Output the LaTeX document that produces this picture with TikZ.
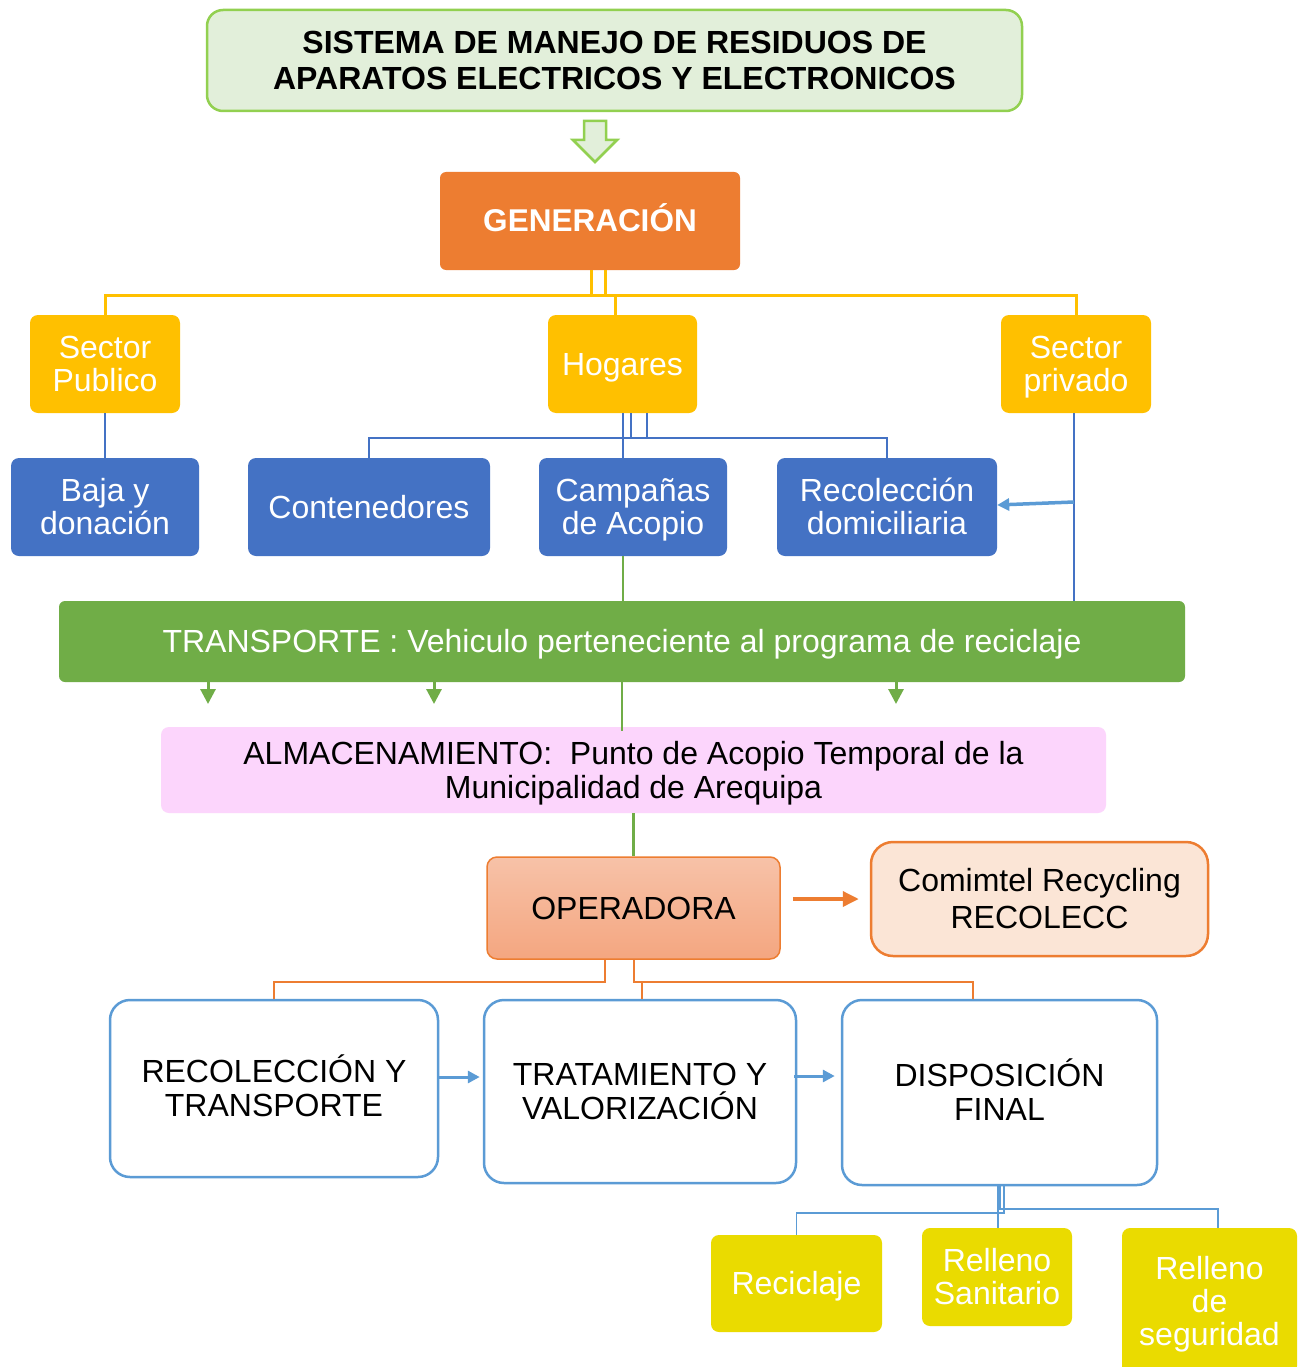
\documentclass[tikz,border=0pt]{standalone}
\usepackage{fontspec}
\setmainfont{Liberation Sans}
\usetikzlibrary{arrows.meta}

\definecolor{titlefill}{HTML}{E2EFDA}
\definecolor{titleline}{HTML}{92D050}
\definecolor{genorange}{HTML}{ED7D31}
\definecolor{gold}{HTML}{FFC000}
\definecolor{darkblue}{HTML}{4472C4}
\definecolor{lightblue}{HTML}{5B9BD5}
\definecolor{leafgreen}{HTML}{70AD47}
\definecolor{pinkfill}{HTML}{FCD5FC}
\definecolor{peachfill}{HTML}{FBE5D6}
\definecolor{opertop}{HTML}{F7C2A8}
\definecolor{operbottom}{HTML}{F4A680}
\definecolor{lemon}{HTML}{EADB00}

% invisible struts for the font's ascent and descent
\newcommand\linestrut{\rule[-0.212em]{0pt}{1.117em}}
\newcommand\ascstrut{\rule{0pt}{0.905em}}
\newcommand\descstrut{\rule[-0.212em]{0pt}{0.212em}}
% two- and three-line labels with struts on the outer lines
\newcommand\twolines[2]{\ascstrut#1\\#2\descstrut}
\newcommand\threelines[3]{\ascstrut#1\\#2\\#3\descstrut}

% place a node from its corner coordinates (x1,y1)-(x2,y2), in pixels
\newcommand\boxnode[7]{%
  \node[#6, minimum width={#4-#2}, minimum height={#5-#3}]
    (#1) at ({(#2+#4)/2},{(#3+#5)/2}) {#7};}

\begin{document}
\begin{tikzpicture}[x=1pt,y=-1pt,
  base/.style={rectangle, inner sep=0pt, align=center,
    font=\fontsize{32}{33}\selectfont},
  single/.style={execute at begin node=\linestrut, execute at end node=\linestrut},
  smallbox/.style={base, rounded corners=8pt, text=white},
  goldbox/.style={smallbox, fill=gold},
  bluebox/.style={smallbox, fill=darkblue},
  lemonbox/.style={smallbox, fill=lemon},
  stagebox/.style={base, rounded corners=20pt, fill=white, draw=lightblue,
    line width=2.5pt, font=\fontsize{32}{34}\selectfont},
  goldline/.style={draw=gold, line width=3pt},
  blueline/.style={draw=darkblue, line width=2.5pt},
  greenline/.style={draw=leafgreen, line width=2.5pt},
  orangeline/.style={draw=genorange, line width=1.5pt},
  thinblue/.style={draw=lightblue, line width=1.3pt},
  greenarrow/.style={draw=leafgreen, line width=3pt,
    -{Triangle[length=15pt,width=15pt]}},
  bluearrow/.style={draw=lightblue, line width=3pt,
    -{Triangle[length=12pt,width=12pt]}},
]
\clip (0,0) rectangle (1305,1367);
\fill[white] (0,0) rectangle (1305,1367);

% title
\boxnode{title}{207}{10}{1022}{111}{base, rounded corners=16pt, fill=titlefill,
  draw=titleline, line width=2.5pt, font=\fontsize{32}{36}\selectfont\bfseries}
  {\twolines{SISTEMA DE MANEJO DE RESIDUOS DE}{APARATOS ELECTRICOS Y ELECTRONICOS}}

% hollow block arrow below the title
\filldraw[fill=titlefill, draw=titleline, line width=2.5pt, line join=miter]
  (584,121) -- (606,121) -- (606,140) -- (617,140) -- (595,162)
  -- (573,140) -- (584,140) -- cycle;

% generation
\boxnode{gen}{440}{172}{740}{270}{base, single, rounded corners=6pt, fill=genorange,
  text=white, font=\fontsize{31.5}{36}\selectfont\bfseries}{GENERACIÓN}

% sources
\boxnode{pub}{30}{315}{180}{413}{goldbox}{\twolines{Sector}{Publico}}
\boxnode{hog}{548}{315}{697}{413}{goldbox, single}{Hogares}
\boxnode{priv}{1001}{315}{1151}{413}{goldbox}{\twolines{Sector}{privado}}

% collection modes
\boxnode{baja}{11}{458}{199}{556}{bluebox}{\twolines{Baja y}{donación}}
\boxnode{cont}{248}{458}{490}{556}{bluebox, single}{Contenedores}
\boxnode{camp}{539}{458}{727}{556}{bluebox}{\twolines{Campañas}{de Acopio}}
\boxnode{rec}{777}{458}{997}{556}{bluebox}{\twolines{Recolección}{domiciliaria}}

% transport and storage
\boxnode{trans}{59}{601}{1185}{682}{base, single, rounded corners=6pt, fill=leafgreen,
  text=white, font=\fontsize{32}{34}\selectfont}
  {TRANSPORTE : Vehiculo perteneciente al programa de reciclaje}
\boxnode{almac}{161}{727}{1106}{813}{base, rounded corners=8pt, fill=pinkfill,
  font=\fontsize{32}{34}\selectfont}
  {\twolines{ALMACENAMIENTO:\ \ Punto de Acopio Temporal de la}{Municipalidad de Arequipa}}

% operator
\boxnode{oper}{487}{857}{780}{959}{base, single, rounded corners=10pt,
  top color=opertop, bottom color=operbottom, draw=genorange, line width=1.5pt,
  font=\fontsize{32}{34}\selectfont}{OPERADORA}
\boxnode{comim}{871}{842}{1208}{956}{base, rounded corners=22pt, fill=peachfill,
  draw=genorange, line width=2.5pt, font=\fontsize{32}{37}\selectfont}
  {\twolines{Comimtel Recycling}{RECOLECC}}

% stages
\boxnode{rt}{110}{1000}{438}{1177}{stagebox}{\twolines{RECOLECCIÓN Y}{TRANSPORTE}}
\boxnode{tv}{484}{1000}{796}{1183}{stagebox}{\twolines{TRATAMIENTO Y}{VALORIZACIÓN}}
\boxnode{disp}{842}{1000}{1157}{1185}{stagebox}{\twolines{DISPOSICIÓN}{FINAL}}

% final destinations
\boxnode{recic}{711}{1235}{882}{1332}{lemonbox, single}{Reciclaje}
\boxnode{rsan}{922}{1228}{1072}{1326}{lemonbox}{\twolines{Relleno}{Sanitario}}
\boxnode{rseg}{1122}{1228}{1297}{1374}{lemonbox}{\threelines{Relleno}{de}{seguridad}}

% generation -> sources
\coordinate (ybus) at (0,295);
\draw[goldline] (pub.north) -- (pub.north |- ybus) -- (priv.north |- ybus)
  -- (priv.north);
\draw[goldline] ([xshift=1pt]gen.south) -- ([xshift=1pt]gen.south |- ybus);
\draw[goldline] ([xshift=15pt]gen.south) -- ([xshift=15pt]gen.south |- ybus);
\draw[goldline] ([xshift=-7.5pt]hog.north |- ybus) -- ([xshift=-7.5pt]hog.north);

% sources -> collection modes
\coordinate (bbus) at (0,438);
\draw[blueline] (pub.south) -- (baja.north);
\draw[blueline] (cont.north) -- (cont.north |- bbus) -- (rec.north |- bbus)
  -- (rec.north);
\draw[blueline] ([xshift=0.5pt]hog.south) -- ([xshift=0.5pt]hog.south |- camp.north);
\draw[blueline] ([xshift=8.5pt]hog.south) -- ([xshift=8.5pt]hog.south |- bbus);
\draw[blueline] ([xshift=24.5pt]hog.south) -- ([xshift=24.5pt]hog.south |- bbus);

% private sector
\coordinate (ptap) at ([xshift=-2pt]priv.south |- 0,502);
\draw[blueline] ([xshift=-2pt]priv.south) -- ([xshift=-2pt]priv.south |- trans.north);
\draw[bluearrow, line width=3.5pt] (ptap) -- ([yshift=2pt]rec.east);

% collection -> transport -> storage
\draw[greenline] ([xshift=-10pt]camp.south) -- ([xshift=-10pt]camp.south |- trans.north);
\coordinate (tA) at (208,704);
\coordinate (tB) at (434,704);
\coordinate (tC) at (896,704);
\draw[greenarrow] (trans.south -| tA) -- (tA);
\draw[greenarrow] (trans.south -| tB) -- (tB);
\draw[greenarrow] (trans.south -| tC) -- (tC);
\draw[greenline] ([yshift=4pt]trans.south -| 622,0) -- ([yshift=-4pt]almac.north -| 622,0);
\draw[greenline] (almac.south -| oper.north) -- (oper.north);

% operator
\draw[draw=genorange, line width=3.5pt, -{Triangle[length=16pt,width=15pt]}]
  ([xshift=12pt]oper.east |- 0,899) -- ([xshift=-11pt]comim.west |- 0,899);
\coordinate (obus) at (0,982);
\draw[orangeline] (oper.south -| 605,0) |- (rt.north |- obus) -- (rt.north);
\draw[orangeline] (oper.south -| 634,0) |- (973,982) -- (disp.north -| 973,0);
\draw[orangeline] (642,982) -- (tv.north -| 642,0);

% stage sequence
\draw[bluearrow] (rt.east |- 0,1077) -- ([xshift=-3pt]tv.west |- 0,1077);
\draw[bluearrow] ([xshift=-3pt]tv.east |- 0,1076) -- ([xshift=-6pt]disp.west |- 0,1076);

% final disposal -> destinations
\draw[thinblue] (disp.south -| 1004,0) |- (recic.north |- 0,1213) -- (recic.north);
\draw[thinblue] (disp.south -| 998,0) -- (rsan.north -| 998,0);
\draw[thinblue] (disp.south -| 1000,0) |- (1218,1209) -- (rseg.north -| 1218,0);
\end{tikzpicture}
\end{document}
